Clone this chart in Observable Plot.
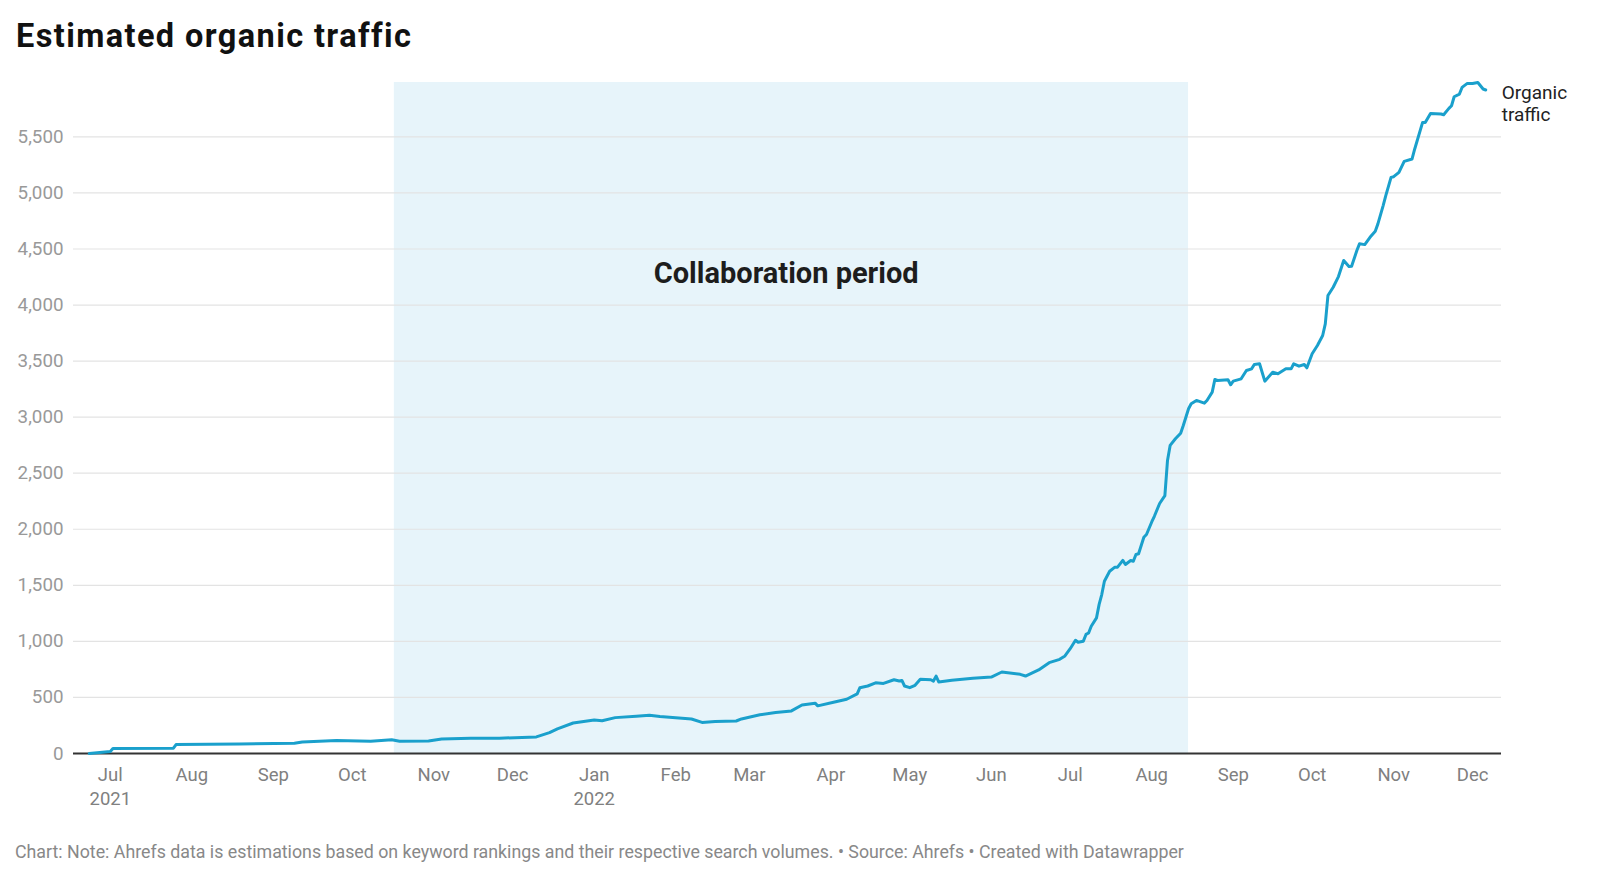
<!DOCTYPE html>
<html>
<head>
<meta charset="utf-8">
<script src="https://cdn.jsdelivr.net/npm/d3@7"></script>
<script src="https://cdn.jsdelivr.net/npm/@observablehq/plot@0.6"></script>
<style>
  body { margin: 0; background: #fff; font-family: Roboto, sans-serif; }
  #wrap { position: relative; width: 1600px; height: 879px; overflow: hidden; }
  #title { position: absolute; left: 16px; top: 19.5px; font: 700 32.5px/32.5px Roboto, sans-serif; letter-spacing: 1.4px; color: #111; white-space: nowrap; }
  #footer { position: absolute; left: 15px; top: 843px; font: 400 17.8px/17.8px Roboto, sans-serif; color: #888; white-space: nowrap; }
  #chart svg { display: block; }
</style>
</head>
<body>
<div id="wrap">
  <div id="chart"></div>
  <div id="title">Estimated organic traffic</div>
  <div id="footer">Chart: Note: Ahrefs data is estimations based on keyword rankings and their respective search volumes. • Source: Ahrefs • Created with Datawrapper</div>
</div>
<script>
// ---- data ----
const dates = [
  "2021-06-23","2021-06-28","2021-07-01","2021-07-02","2021-07-25","2021-07-26","2021-08-19","2021-09-09",
  "2021-09-12","2021-09-25","2021-10-08","2021-10-16","2021-10-19","2021-10-30","2021-11-04","2021-11-15",
  "2021-11-26","2021-12-10","2021-12-15","2021-12-18","2021-12-24","2022-01-01","2022-01-04","2022-01-09",
  "2022-01-17","2022-01-22","2022-01-26","2022-02-01","2022-02-07","2022-02-11","2022-02-16","2022-02-24",
  "2022-02-26","2022-03-05","2022-03-11","2022-03-17","2022-03-21","2022-03-26","2022-03-27","2022-04-02",
  "2022-04-07","2022-04-11","2022-04-12","2022-04-15","2022-04-18","2022-04-21","2022-04-25","2022-04-27",
  "2022-04-28","2022-04-29","2022-05-01","2022-05-03","2022-05-05","2022-05-09","2022-05-10","2022-05-11",
  "2022-05-12","2022-05-17","2022-05-25","2022-06-01","2022-06-05","2022-06-12","2022-06-14","2022-06-19",
  "2022-06-23","2022-06-27","2022-06-29","2022-07-01","2022-07-03","2022-07-04","2022-07-06","2022-07-07",
  "2022-07-08","2022-07-09","2022-07-11","2022-07-12","2022-07-13","2022-07-14","2022-07-16","2022-07-18",
  "2022-07-19","2022-07-21","2022-07-22","2022-07-24","2022-07-25","2022-07-26","2022-07-27","2022-07-29",
  "2022-07-30","2022-08-01","2022-08-02","2022-08-04","2022-08-06","2022-08-07","2022-08-08","2022-08-10",
  "2022-08-12","2022-08-13","2022-08-15","2022-08-16","2022-08-18","2022-08-21","2022-08-22","2022-08-24",
  "2022-08-25","2022-08-26","2022-08-30","2022-08-31","2022-09-01","2022-09-04","2022-09-06","2022-09-08",
  "2022-09-09","2022-09-11","2022-09-13","2022-09-16","2022-09-18","2022-09-21","2022-09-23","2022-09-24",
  "2022-09-26","2022-09-28","2022-09-29","2022-10-01","2022-10-03","2022-10-05","2022-10-06","2022-10-07",
  "2022-10-09","2022-10-11","2022-10-13","2022-10-15","2022-10-16","2022-10-18","2022-10-19","2022-10-21",
  "2022-10-23","2022-10-25","2022-10-26","2022-10-28","2022-10-29","2022-10-31","2022-11-01","2022-11-03",
  "2022-11-05","2022-11-08","2022-11-09","2022-11-12","2022-11-13","2022-11-15","2022-11-19","2022-11-20",
  "2022-11-22","2022-11-23","2022-11-24","2022-11-26","2022-11-27","2022-11-29","2022-12-01","2022-12-03",
  "2022-12-05","2022-12-06"
];
const traffic = [
  0, 12, 18, 45, 47, 80, 85, 92,
  103, 115, 110, 122, 110, 112, 130, 136,
  136, 148, 186, 220, 272, 298, 292, 320,
  333, 342, 330, 318, 308, 277, 285, 290,
  308, 345, 366, 380, 433, 449, 425, 457,
  484, 532, 586, 602, 630, 625, 658, 646,
  652, 602, 587, 608, 662, 658, 646, 690,
  638, 653, 671, 682, 727, 706, 691, 745,
  810, 840, 870, 935, 1010, 992, 1002, 1062,
  1075, 1135, 1210, 1330, 1418, 1537, 1626, 1662,
  1662, 1722, 1686, 1722, 1715, 1775, 1781, 1929,
  1953, 2065, 2116, 2230, 2300, 2614, 2748, 2807,
  2857, 2926, 3075, 3119, 3149, 3125, 3149, 3223,
  3336, 3327, 3333, 3289, 3321, 3342, 3416, 3431,
  3470, 3476, 3321, 3401, 3387, 3431, 3431, 3476,
  3455, 3470, 3440, 3565, 3639, 3728, 3832, 4085,
  4159, 4254, 4397, 4343, 4346, 4486, 4546, 4539,
  4604, 4658, 4724, 4887, 4976, 5139, 5145, 5184,
  5282, 5303, 5392, 5629, 5629, 5709, 5704, 5697,
  5754, 5778, 5858, 5882, 5941, 5977, 5977, 5985,
  5927, 5918
];
const seriesName = "Organic\ntraffic";
const periodStart = "2021-10-17";
const periodEnd = "2022-08-15";
const periodLabel = "Collaboration period";
const periodLabelDate = "2022-03-15";
const periodLabelValue = 4280;
const xDomain = ["2021-06-17", "2022-12-12"];
const yTicks = [0, 500, 1000, 1500, 2000, 2500, 3000, 3500, 4000, 4500, 5000, 5500];
const monthTicks = [
  "2021-07-01","2021-08-01","2021-09-01","2021-10-01","2021-11-01","2021-12-01",
  "2022-01-01","2022-02-01","2022-03-01","2022-04-01","2022-05-01","2022-06-01",
  "2022-07-01","2022-08-01","2022-09-01","2022-10-01","2022-11-01","2022-12-01"
];
const monthLabels = [
  "Jul\n2021","Aug","Sep","Oct","Nov","Dec",
  "Jan\n2022","Feb","Mar","Apr","May","Jun",
  "Jul","Aug","Sep","Oct","Nov","Dec"
];

// ---- build ----
const data = dates.map((d, i) => ({date: new Date(d), value: traffic[i]}));
const ticks = monthTicks.map((d, i) => ({date: new Date(d), label: monthLabels[i]}));
const yMax = d3.max(traffic);
const last = data[data.length - 1];

const chart = Plot.plot({
  width: 1600,
  height: 879,
  marginTop: 82,
  marginBottom: 126,
  marginLeft: 73,
  marginRight: 99,
  style: {fontFamily: "Roboto, sans-serif", background: "transparent", overflow: "visible"},
  x: {type: "utc", domain: xDomain.map(d => new Date(d)), axis: null},
  y: {domain: [0, yMax], axis: null},
  marks: [
    Plot.rect([{x1: new Date(periodStart), x2: new Date(periodEnd)}], {
      x1: "x1", x2: "x2", y1: () => 0, y2: () => yMax, fill: "#e7f4fa"
    }),
    Plot.gridY(yTicks, {stroke: "#e3e3e3", strokeOpacity: 1, strokeWidth: 1.2}),
    Plot.axisY(yTicks, {
      tickSize: 0, tickPadding: 10, fontSize: 18.8, fill: "#999",
      tickFormat: d3.format(","), label: null
    }),
    Plot.ruleY([0], {stroke: "#333", strokeWidth: 1.8}),
    Plot.text(ticks, {
      x: "date", y: () => 0, text: "label", lineAnchor: "top", dy: 11.2,
      fontSize: 18.5, lineHeight: 1.276, fill: "#808080", textAnchor: "middle"
    }),
    Plot.text([periodLabel], {
      x: () => new Date(periodLabelDate), y: () => periodLabelValue, text: d => d,
      fontSize: 29, fontWeight: 700, fill: "#1d1d1d", textAnchor: "middle", lineAnchor: "middle"
    }),
    Plot.line(data, {x: "date", y: "value", stroke: "#1aa0cc", strokeWidth: 3, strokeLinejoin: "round", strokeLinecap: "round"}),
    Plot.text([last], {
      x: "date", y: "value", text: () => seriesName, textAnchor: "start", lineAnchor: "top",
      dx: 16, dy: -6.3, fontSize: 19, lineHeight: 1.158, fill: "#222"
    })
  ]
});
document.getElementById("chart").appendChild(chart);
</script>
</body>
</html>
